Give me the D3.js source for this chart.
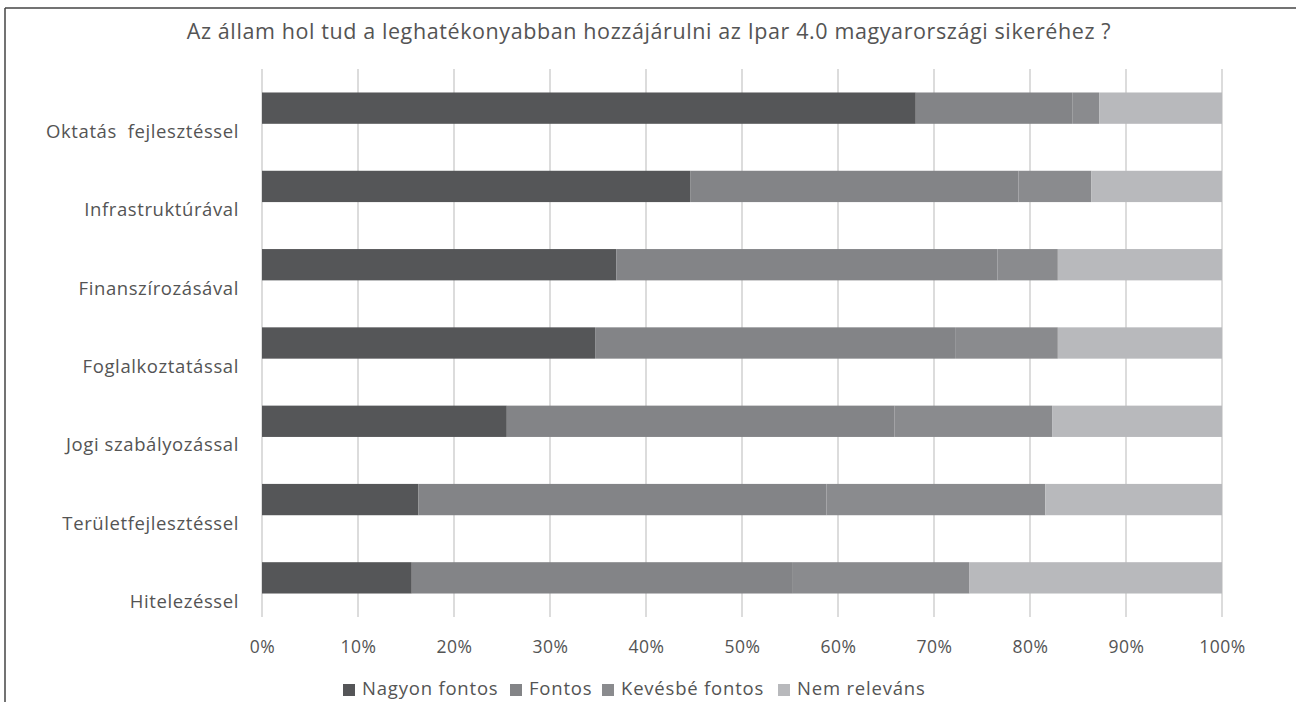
<!DOCTYPE html>
<html>
<head>
<meta charset="utf-8">
<script src="https://cdn.jsdelivr.net/npm/d3@7"></script>
<style>
  body { margin: 0; background: #fff; }
  text { font-family: "Open Sans", Lato, sans-serif; fill: #545454; }
</style>
</head>
<body>
<div id="chart"></div>
<script>
// data (percent of answers)
var categories = ["Oktatás  fejlesztéssel", "Infrastruktúrával", "Finanszírozásával", "Foglalkoztatással", "Jogi szabályozással", "Területfejlesztéssel", "Hitelezéssel"];
var seriesNames = ["Nagyon fontos", "Fontos", "Kevésbé fontos", "Nem releváns"];
var nagyonFontos = [68.1, 44.6, 36.9, 34.7, 25.5, 16.3, 15.6];
var fontos = [16.3, 34.2, 39.7, 37.5, 40.4, 42.5, 39.7];
var kevesbeFontos = [2.8, 7.6, 6.3, 10.7, 16.4, 22.8, 18.4];
var nemRelevans = [12.8, 13.6, 17.1, 17.1, 17.7, 18.4, 26.3];
var tickValues = [0, 10, 20, 30, 40, 50, 60, 70, 80, 90, 100];
var colors = ["#555658", "#838487", "#8a8b8e", "#b8b9bc"];

var width = 1296, height = 702;
var margin = { top: 69, right: 74, bottom: 85, left: 262 };

var svg = d3.select("#chart").append("svg")
    .attr("width", width)
    .attr("height", height);

// frame (top and left edges visible)
svg.append("line").attr("x1", 5).attr("x2", width).attr("y1", 8).attr("y2", 8)
    .attr("stroke", "#444").attr("stroke-width", 1.5);
svg.append("line").attr("x1", 5).attr("x2", 5).attr("y1", 8).attr("y2", height)
    .attr("stroke", "#444").attr("stroke-width", 1.5);

svg.append("text")
    .attr("x", 649).attr("y", 39)
    .attr("text-anchor", "middle")
    .style("font-size", "21.5px")
    .style("letter-spacing", "0.6px")
    .text("Az állam hol tud a leghatékonyabban hozzájárulni az Ipar 4.0 magyarországi sikeréhez ?");

var rows = categories.map(function (c, i) {
    return { cat: c, "Nagyon fontos": nagyonFontos[i], "Fontos": fontos[i], "Kevésbé fontos": kevesbeFontos[i], "Nem releváns": nemRelevans[i] };
});
// normalise each row to 100%
rows.forEach(function (r) {
    var s = d3.sum(seriesNames, function (k) { return r[k]; });
    seriesNames.forEach(function (k) { r[k] = r[k] * 100 / s; });
});

var x = d3.scaleLinear().domain([0, 100]).range([margin.left, width - margin.right]);
var y = d3.scaleBand().domain(categories)
    .range([margin.top, height - margin.bottom])
    .paddingInner(0.6).paddingOuter(0.3);
var color = d3.scaleOrdinal().domain(seriesNames).range(colors);

// gridlines
svg.append("g").selectAll("line")
    .data(tickValues)
    .enter().append("line")
    .attr("x1", function (d) { return x(d); })
    .attr("x2", function (d) { return x(d); })
    .attr("y1", margin.top)
    .attr("y2", height - margin.bottom)
    .attr("stroke", "#d0d0d0")
    .attr("stroke-width", 1.5);

var stack = d3.stack().keys(seriesNames)(rows);

svg.append("g").selectAll("g")
    .data(stack)
    .enter().append("g")
    .attr("fill", function (d) { return color(d.key); })
    .selectAll("rect")
    .data(function (d) { return d; })
    .enter().append("rect")
    .attr("x", function (d) { return x(d[0]); })
    .attr("width", function (d) { return x(d[1]) - x(d[0]); })
    .attr("y", function (d) { return y(d.data.cat); })
    .attr("height", y.bandwidth());

// category labels (sit a bit below the bars, as in the picture)
svg.append("g").selectAll("text")
    .data(categories)
    .enter().append("text")
    .attr("x", 239)
    .attr("y", function (d) { return y(d) + y.bandwidth() / 2 + 25; })
    .attr("text-anchor", "end")
    .attr("dominant-baseline", "middle")
    .style("font-size", "18.5px")
    .style("letter-spacing", "0.6px")
    .style("white-space", "pre")
    .text(function (d) { return d; });

// x axis
var xAxis = d3.axisBottom(x).tickValues(tickValues)
    .tickFormat(function (d) { return d + "%"; })
    .tickSize(0).tickPadding(0);
var gx = svg.append("g")
    .attr("transform", "translate(0," + 653 + ")")
    .call(xAxis);
gx.select(".domain").remove();
gx.selectAll("text")
    .attr("dy", 0)
    .style("font-size", "17.5px")
    .style("letter-spacing", "0.5px")
    .style("font-family", "'Open Sans', sans-serif")
    .attr("fill", "#545454");

// legend
var legendX = [343, 510, 602, 778];
var legend = svg.append("g").selectAll("g")
    .data(seriesNames)
    .enter().append("g")
    .attr("transform", function (d, i) { return "translate(" + legendX[i] + ",690)"; });
legend.append("rect")
    .attr("x", 0).attr("y", -6)
    .attr("width", 12).attr("height", 12)
    .attr("fill", function (d) { return color(d); });
legend.append("text")
    .attr("x", 19).attr("y", 0)
    .attr("dominant-baseline", "middle")
    .style("font-size", "18.5px")
    .style("letter-spacing", "0.8px")
    .text(function (d) { return d; });
</script>
</body>
</html>
